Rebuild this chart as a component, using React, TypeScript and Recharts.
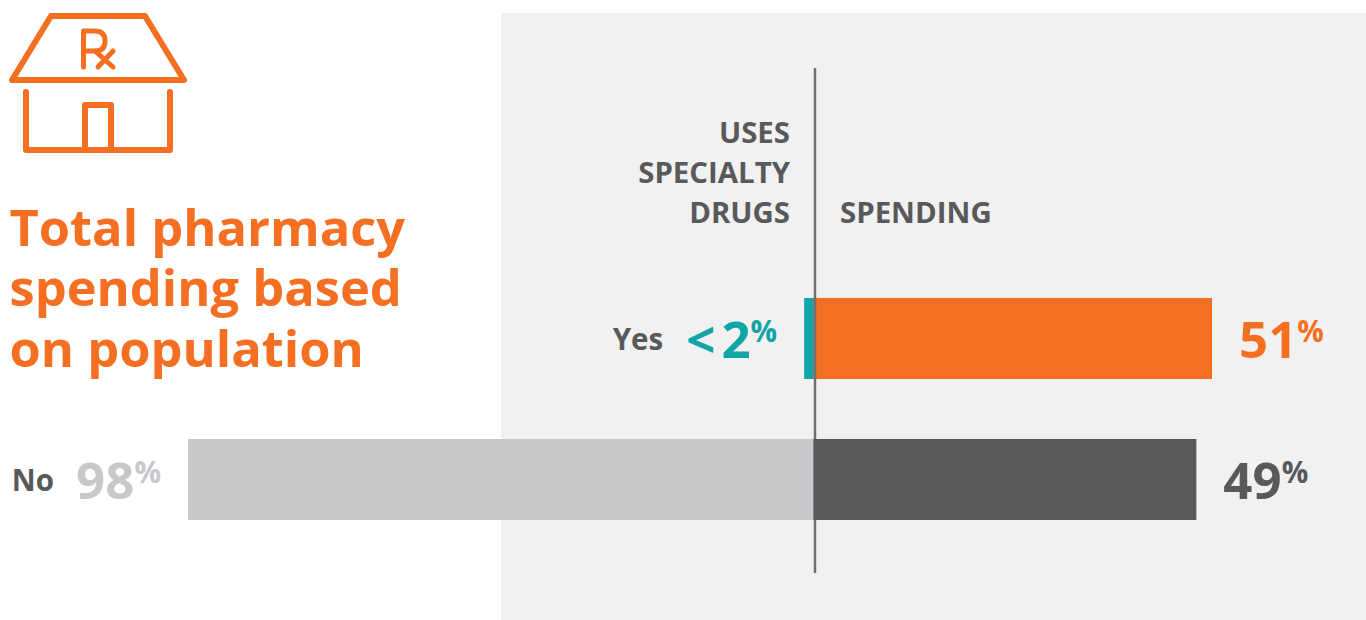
import React from 'react';
import { BarChart, Bar, Cell, XAxis, YAxis, ReferenceLine, LabelList } from 'recharts';

const categories = ['Yes', 'No'];
const shareValues = [1.7, 98];
const shareLabels = ['<2', '98'];
const spendingValues = [51, 49];
const titleLines = ['Total pharmacy', 'spending based', 'on population'];
const headerLeft = ['USES', 'SPECIALTY', 'DRUGS'];
const headerRight = 'SPENDING';

const ORANGE = '#f56f23';
const TEAL = '#12a5a7';
const LIGHT = '#c7c8ca';
const DARK = '#58595b';
const font = '"Open Sans", sans-serif';

// left bars run negative so both halves share one zero line;
// spending is split per row because the axis line sits between the two bars
const rows = categories.map((name, i) => ({
  name,
  share: -shareValues[i],
  spendingYes: name === 'Yes' ? spendingValues[i] : null,
  spendingNo: name === 'No' ? spendingValues[i] : null,
  shareLabel: shareLabels[i],
}));

const ShareLabel = ({ x, y, width, height, index }: any) => {
  const row = rows[index];
  const left = x + Math.min(width, 0);
  const fill = row.name === 'Yes' ? TEAL : LIGHT;
  const hasPrefix = row.shareLabel.startsWith('<');
  return (
    <text x={left - 27} y={y + height / 2 + 19} textAnchor="end" fontFamily={font} fontWeight={700}>
      <tspan dy={-7.5} fontSize={29.5} fill={DARK}>{row.name}</tspan>
      {hasPrefix && <tspan dx={23} dy={7.5} fontSize={51} fill={fill}>{'<'}</tspan>}
      <tspan dx={hasPrefix ? 6 : 22} dy={hasPrefix ? 0 : 7.5} fontSize={51} fill={fill}>{row.shareLabel.replace('<', '')}</tspan>
      <tspan dy={-16} fontSize={29.5} fill={fill}>%</tspan>
    </text>
  );
};

const spendingLabel = (fill: string) => ({ x, y, width, height, value }: any) =>
  value == null ? null : (
    <text x={x + width + 27} y={y + height / 2 + 19} fontFamily={font} fontWeight={700} fill={fill}>
      <tspan fontSize={51}>{value}</tspan>
      <tspan dy={-16} fontSize={29.5}>%</tspan>
    </text>
  );

const HouseIcon = () => (
  <svg width={200} height={165} style={{ position: 'absolute', left: 0, top: 0 }} fill="none" stroke={ORANGE} strokeLinecap="round" strokeLinejoin="round">
    <path d="M51 16 H145 L184 80 H12 Z" strokeWidth={6} />
    <path d="M26 92 V150 H170 V92" strokeWidth={6} />
    <path d="M85 148 V105 H111 V148" strokeWidth={6} />
    <path d="M83.500 67 V31 H95 Q105 31 105 41 Q105 51 95 51 H84 M95 51 L113 67 M113 51 L98 67" strokeWidth={5} />
  </svg>
);

export default function App() {
  return (
    <div style={{ position: 'absolute', left: 0, top: 0, width: 1366, height: 620, background: '#fff', overflow: 'hidden', fontFamily: font }}>
      <div style={{ position: 'absolute', left: 501, top: 13, width: 865, height: 607, background: '#f1f1f1' }} />
      <HouseIcon />
      {titleLines.map((line, i) => (
        <div key={line} style={{ position: 'absolute', left: 9.5, top: 196.5 + i * 60.5, fontSize: 50.6, lineHeight: '60px', fontWeight: 700, color: ORANGE, whiteSpace: 'nowrap' }}>
          {line}
        </div>
      ))}
      {headerLeft.map((line, i) => (
        <div key={line} style={{ position: 'absolute', right: 1366 - 790, top: 112 + i * 40, fontSize: 29.4, lineHeight: '40px', fontWeight: 700, color: DARK, whiteSpace: 'nowrap' }}>
          {line}
        </div>
      ))}
      <div style={{ position: 'absolute', left: 840, top: 192, fontSize: 29.4, lineHeight: '40px', fontWeight: 700, color: DARK }}>
        {headerRight}
      </div>
      <div style={{ position: 'absolute', left: 0, top: 0 }}>
        <BarChart
          width={1366}
          height={620}
          layout="vertical"
          data={rows}
          barSize={81}
          barGap={-81}
          margin={{ top: 68, right: 154, bottom: 47, left: 188 }}
          style={{ background: 'transparent' }}
        >
          <XAxis xAxisId="share" type="number" domain={[-98, 62.05]} hide allowDataOverflow />
          <XAxis xAxisId="spending" type="number" domain={[-80.05, 51]} hide allowDataOverflow />
          <YAxis yAxisId="rows" type="category" dataKey="name" hide padding={{ top: 200, bottom: 23 }} />
          <YAxis yAxisId="line" type="category" dataKey="name" hide />
          <Bar xAxisId="share" yAxisId="rows" dataKey="share" stackId="share" isAnimationActive={false}>
            {rows.map((r) => (
              <Cell key={r.name} fill={r.name === 'Yes' ? TEAL : LIGHT} />
            ))}
            <LabelList dataKey="share" content={ShareLabel} />
          </Bar>
          <Bar xAxisId="spending" yAxisId="rows" dataKey="spendingYes" stackId="spending" fill={ORANGE} isAnimationActive={false}>
            <LabelList dataKey="spendingYes" content={spendingLabel(ORANGE)} />
          </Bar>
          <ReferenceLine xAxisId="share" yAxisId="line" x={0} stroke="#6d6e71" strokeWidth={2.5} zIndex={450} />
          <Bar xAxisId="spending" yAxisId="rows" dataKey="spendingNo" stackId="spending" fill={DARK} zIndex={500} isAnimationActive={false}>
            <LabelList dataKey="spendingNo" content={spendingLabel(DARK)} />
          </Bar>
        </BarChart>
      </div>
    </div>
  );
}
